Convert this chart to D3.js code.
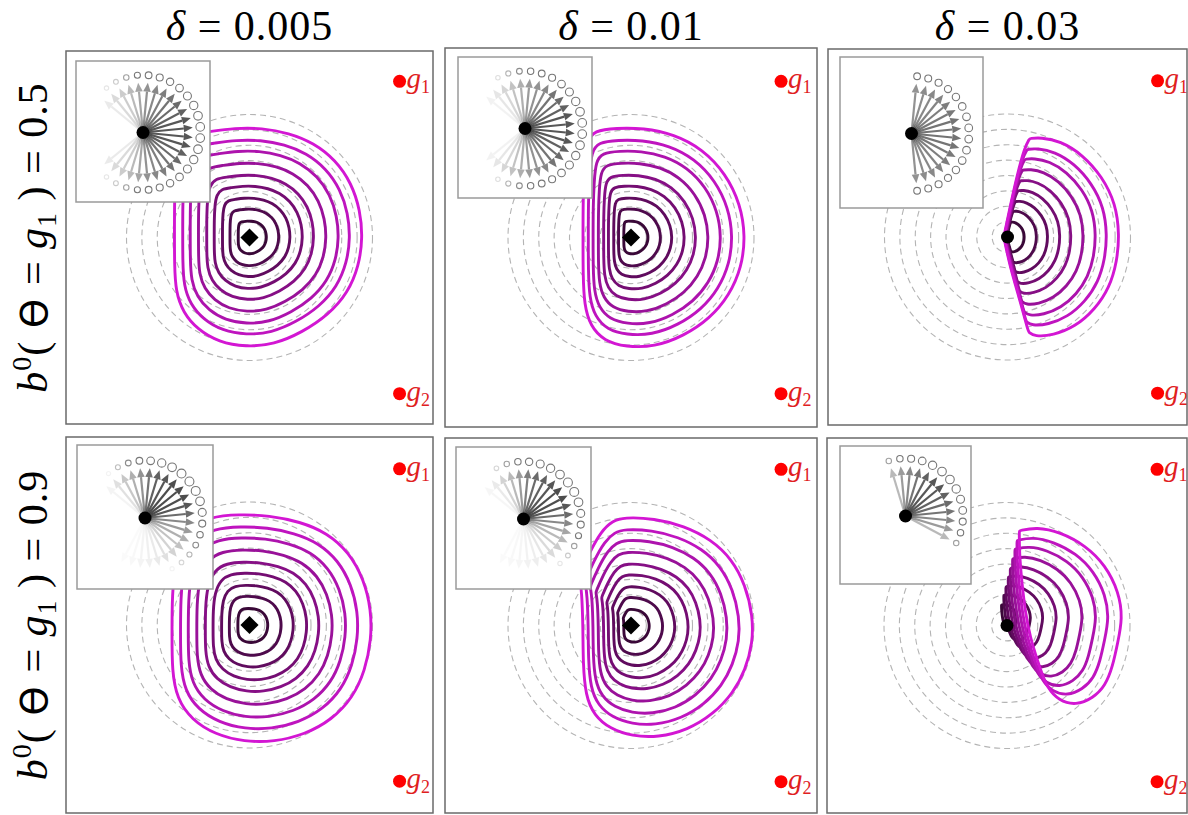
<!DOCTYPE html>
<html><head><meta charset="utf-8">
<script src="https://cdn.jsdelivr.net/npm/d3@7"></script>
<style>body{margin:0;background:#fff} svg{display:block}</style>
</head><body>
<script>
// Column headers (step size) and row headers (prior belief on goal g1)
const deltaLabels = ["0.005", "0.01", "0.03"];
const beliefLabels = ["0.5", "0.9"];

// Goal locations in world units (agent starts at the origin)
const goalNames = ["1", "2"];
const goalX = [1.22, 1.22];
const goalY = [1.27, -1.27];

// Reference distance rings around the start
const ringRadii = [0.125, 0.25, 0.375, 0.5, 0.625, 0.75, 0.875, 1.0];

// Relative size of each reachable-set contour (inner to outer)
const contourLevels = [0.15, 0.26, 0.36, 0.47, 0.57, 0.68, 0.79, 0.89, 1.0];

// Outermost contour for each panel, world units (row-major: δ across, belief down).
// Repeated points keep the corners sharp under the B-spline.
const outlineA = [[-0.33,0.86],[-0.12,0.89],[0.10,0.89],[0.32,0.85],[0.52,0.77],[0.70,0.63],[0.83,0.44],[0.90,0.22],[0.92,0.0],[0.89,-0.23],[0.80,-0.45],[0.64,-0.63],[0.43,-0.77],[0.20,-0.87],[-0.03,-0.89],[-0.25,-0.85],[-0.42,-0.75],[-0.54,-0.61],[-0.60,-0.44],[-0.61,-0.22],[-0.61,0.05],[-0.61,0.30],[-0.60,0.55],[-0.57,0.74],[-0.48,0.84]];
const outlineB = [[-0.30,0.87],[-0.12,0.89],[0.10,0.89],[0.35,0.84],[0.58,0.72],[0.77,0.52],[0.89,0.27],[0.93,0.01],[0.90,-0.24],[0.80,-0.47],[0.64,-0.66],[0.43,-0.80],[0.19,-0.89],[-0.04,-0.89],[-0.22,-0.84],[-0.33,-0.72],[-0.38,-0.55],[-0.39,-0.30],[-0.39,0.0],[-0.39,0.30],[-0.38,0.58],[-0.36,0.78]];
const outlineC = [[0.18,0.80],[0.18,0.80],[0.27,0.81],[0.43,0.78],[0.61,0.67],[0.77,0.49],[0.88,0.27],[0.91,0.02],[0.89,-0.20],[0.83,-0.41],[0.71,-0.59],[0.55,-0.73],[0.37,-0.80],[0.22,-0.81],[0.17,-0.77],[0.17,-0.77],[0.10,-0.51],[0.02,-0.24],[-0.03,0.0],[-0.03,0.0],[0.02,0.24],[0.08,0.51],[0.14,0.73]];
const outlineD = [[-0.33,0.88],[-0.08,0.90],[0.16,0.89],[0.41,0.84],[0.63,0.75],[0.81,0.59],[0.93,0.37],[0.99,0.12],[0.99,-0.12],[0.94,-0.37],[0.84,-0.59],[0.67,-0.77],[0.45,-0.89],[0.20,-0.95],[-0.04,-0.95],[-0.28,-0.89],[-0.47,-0.77],[-0.59,-0.60],[-0.63,-0.37],[-0.63,-0.08],[-0.63,0.24],[-0.60,0.56],[-0.50,0.78]];
const outlineE = [[-0.06,0.88],[0.19,0.87],[0.43,0.81],[0.65,0.70],[0.82,0.54],[0.93,0.33],[0.99,0.08],[0.99,-0.14],[0.93,-0.36],[0.83,-0.55],[0.67,-0.72],[0.46,-0.85],[0.22,-0.91],[0.01,-0.90],[-0.17,-0.84],[-0.30,-0.73],[-0.37,-0.57],[-0.39,-0.30],[-0.39,-0.02],[-0.40,0.28],[-0.42,0.40],[-0.42,0.40],[-0.34,0.59],[-0.24,0.77],[-0.15,0.85]];
const outlineF = [[0.10,0.77],[0.10,0.77],[0.24,0.80],[0.43,0.76],[0.64,0.65],[0.80,0.49],[0.91,0.27],[0.94,0.06],[0.90,-0.14],[0.86,-0.33],[0.80,-0.49],[0.70,-0.59],[0.56,-0.65],[0.42,-0.61],[0.33,-0.51],[0.28,-0.38],[0.24,-0.26],[0.24,-0.26],[0.19,-0.10],[0.15,0.10],[0.12,0.35],[0.10,0.60]];

// Point each panel's contours shrink towards (world units)
const shrinkOriginX = [0, 0, 0, 0, 0, -0.07];
const shrinkOriginY = [0, 0, 0, 0, 0, 0.06];

// Discrete action directions (degrees, counter-clockwise from +x)
const actionAngles = [-140.6,-129.4,-118.1,-106.9,-95.6,-84.4,-73.1,-61.9,-50.6,-39.4,-28.1,-16.9,-5.6,5.6,16.9,28.1,39.4,50.6,61.9,73.1,84.4,95.6,106.9,118.1,129.4,140.6];
// Policy weight on each direction, per panel
const policyA = [0.1,0.18,0.25,0.35,0.45,0.55,0.6,0.65,0.7,0.75,0.8,0.85,0.85,0.85,0.85,0.8,0.75,0.7,0.65,0.6,0.55,0.45,0.35,0.25,0.18,0.1];
const policyB = [0.06,0.12,0.2,0.3,0.4,0.5,0.55,0.6,0.7,0.75,0.8,0.85,0.85,0.85,0.85,0.8,0.75,0.7,0.6,0.55,0.5,0.4,0.3,0.2,0.12,0.06];
const policyC = [0,0,0,0,0,0.55,0.58,0.6,0.62,0.65,0.68,0.7,0.7,0.7,0.7,0.68,0.65,0.62,0.6,0.58,0.55,0,0,0,0,0];
const policyD = [0,0,0.02,0.03,0.05,0.07,0.1,0.15,0.22,0.3,0.4,0.5,0.6,0.75,0.85,0.9,0.9,0.9,0.85,0.8,0.7,0.55,0.4,0.28,0.15,0.05];
const policyE = [0,0,0.02,0.03,0.04,0.06,0.08,0.12,0.18,0.25,0.35,0.45,0.6,0.75,0.85,0.9,0.9,0.85,0.8,0.75,0.65,0.5,0.35,0.22,0.1,0.04];
const policyF = [0,0,0,0,0,0,0,0,0,0,0.35,0.5,0.6,0.7,0.75,0.8,0.85,0.85,0.8,0.7,0.6,0.5,0.35,0,0,0];

const outlines = [outlineA, outlineB, outlineC, outlineD, outlineE, outlineF];
const policies = [policyA, policyB, policyC, policyD, policyE, policyF];

// ---- layout ----
const W = 1188, H = 815;
const panelBoxes = [[66,51,367,373],[445,48,372,379],[828,49,359,376],[66,437,367,376],[445,438,372,375],[827,438,360,375]];
const insetBoxes = [[10,10,134,141],[13,9,134,141],[12,8,143,151],[11,8,136,144],[11,9,135,142],[13,8,131,138]];
const markerShape = ["diamond", "diamond", "circle"];
const serif = "'Liberation Serif', 'DejaVu Serif', serif";

const svg = d3.select("body").append("svg").attr("width", W).attr("height", H);
const defs = svg.append("defs");

const contourColor = d3.scaleLinear()
  .domain([contourLevels[0], contourLevels[contourLevels.length - 1]])
  .range(["#3a0838", "#d316d3"]).interpolate(d3.interpolateRgb);

panelBoxes.forEach((box, i) => {
  const [px, py, pw, ph] = box;
  const col = i % 3;
  const cx = pw / 2, cy = ph / 2;
  const unit = 123;
  const x = d3.scaleLinear().domain([-1, 1]).range([cx - unit, cx + unit]);
  const y = d3.scaleLinear().domain([-1, 1]).range([cy + unit, cy - unit]);

  const g = svg.append("g").attr("transform", `translate(${px},${py})`);
  defs.append("clipPath").attr("id", "clip" + i)
    .append("rect").attr("width", pw).attr("height", ph);
  const body = g.append("g").attr("clip-path", `url(#clip${i})`);
  body.append("rect").attr("width", pw).attr("height", ph).attr("fill", "#fff");

  // distance rings
  body.append("g").selectAll("circle").data(ringRadii).join("circle")
    .attr("cx", x(0)).attr("cy", y(0))
    .attr("r", d => x(d) - x(0))
    .attr("fill", "none").attr("stroke", "#b4b4b4")
    .attr("stroke-width", 1.1).attr("stroke-dasharray", "6,4");

  // reachable-set contours, inner first so the outer ones sit on top
  const ox = shrinkOriginX[i], oy = shrinkOriginY[i];
  const line = d3.line().x(d => x(d[0])).y(d => y(d[1]))
    .curve(d3.curveBasisClosed);
  body.append("g").selectAll("path").data(contourLevels).join("path")
    .attr("d", s => line(outlines[i].map(p => [ox + (p[0] - ox) * s, oy + (p[1] - oy) * s])))
    .attr("fill", "none")
    .attr("stroke", s => contourColor(s))
    .attr("stroke-width", 2.9)
    .attr("stroke-linejoin", "round");

  // start marker
  if (markerShape[col] === "diamond") {
    body.append("path")
      .attr("d", d3.symbol(d3.symbolSquare, 165)())
      .attr("transform", `translate(${x(0)},${y(0)}) rotate(45)`)
      .attr("fill", "#000");
  } else {
    body.append("circle").attr("cx", x(0)).attr("cy", y(0)).attr("r", 6.5).attr("fill", "#000");
  }

  // goals
  goalNames.forEach((name, k) => {
    const gx = x(goalX[k]), gy = y(goalY[k]);
    body.append("circle").attr("cx", gx).attr("cy", gy).attr("r", 6.5).attr("fill", "#ff0000");
    const t = body.append("text").attr("x", gx + 7).attr("y", gy + 7)
      .attr("fill", "#e0201e").attr("font-family", serif).attr("font-size", 29);
    t.append("tspan").attr("font-style", "italic").text("g");
    t.append("tspan").attr("font-size", 18).attr("dy", 5).text(name);
  });

  // policy inset
  const [ix, iy, iw, ih] = insetBoxes[i];
  const inset = body.append("g").attr("transform", `translate(${ix},${iy})`);
  inset.append("rect").attr("width", iw).attr("height", ih)
    .attr("fill", "#fff").attr("stroke", "#9a9a9a").attr("stroke-width", 1.5);
  const icx = iw / 2, icy = ih / 2 + 1;
  const r = d3.scaleLinear().domain([0, 1]).range([0, 50]);
  const ringOpacity = d3.scaleLinear().domain([0.12, 0.45]).range([0, 1]).clamp(true);
  const acts = actionAngles.map((a, k) => ({a: a * Math.PI / 180, w: policies[i][k]}))
    .filter(d => d.w > 0);
  const arrows = inset.append("g");
  acts.forEach(d => {
    const ux = Math.cos(d.a), uy = -Math.sin(d.a);
    const tip = r(1), base = r(1) - 9;
    const ag = arrows.append("g").attr("opacity", d.w);
    ag.append("line")
      .attr("x1", icx).attr("y1", icy)
      .attr("x2", icx + ux * base).attr("y2", icy + uy * base)
      .attr("stroke", "#3a3a3a").attr("stroke-width", 2.2);
    const nx = -uy, ny = ux;
    ag.append("path")
      .attr("d", `M${icx + ux * tip},${icy + uy * tip}L${icx + ux * base + nx * 3.8},${icy + uy * base + ny * 3.8}L${icx + ux * base - nx * 3.8},${icy + uy * base - ny * 3.8}Z`)
      .attr("fill", "#3a3a3a");
    inset.append("circle")
      .attr("cx", icx + ux * r(1.15)).attr("cy", icy + uy * r(1.15))
      .attr("r", 1.6 + 3.2 * d.w)
      .attr("fill", "none").attr("stroke", "#777")
      .attr("stroke-width", 1.1).attr("opacity", ringOpacity(d.w));
  });
  inset.append("circle").attr("cx", icx).attr("cy", icy).attr("r", 6.5).attr("fill", "#000");

  // frame
  g.append("rect").attr("width", pw).attr("height", ph)
    .attr("fill", "none").attr("stroke", "#6a6a6a").attr("stroke-width", 1.5);
});

// column headers
deltaLabels.forEach((lab, c) => {
  const [px, , pw] = panelBoxes[c];
  const t = svg.append("text").attr("x", px + pw / 2).attr("y", 40)
    .attr("text-anchor", "middle").attr("font-family", serif).attr("font-size", 42)
    .attr("letter-spacing", 1);
  t.append("tspan").attr("font-style", "italic").text("δ");
  t.append("tspan").text(" = " + lab);
});

// row headers
beliefLabels.forEach((lab, rIdx) => {
  const [, py, , ph] = panelBoxes[rIdx * 3];
  const t = svg.append("text")
    .attr("transform", `translate(47,${py + ph / 2}) rotate(-90)`)
    .attr("text-anchor", "middle").attr("font-family", serif).attr("font-size", 42)
    .attr("letter-spacing", 1);
  t.append("tspan").attr("font-style", "italic").text("b");
  t.append("tspan").attr("font-size", 28).attr("dy", -16).text("0");
  t.append("tspan").attr("dy", 16).text("(");
  t.append("tspan").attr("font-family", "'DejaVu Sans', sans-serif").attr("font-size", 37).text(" ϴ ");
  t.append("tspan").text("= ");
  t.append("tspan").attr("font-style", "italic").text("g");
  t.append("tspan").attr("font-size", 28).attr("dy", 9).text("1");
  t.append("tspan").attr("dy", -9).text(" ) = " + lab);
});
</script>
</body></html>
